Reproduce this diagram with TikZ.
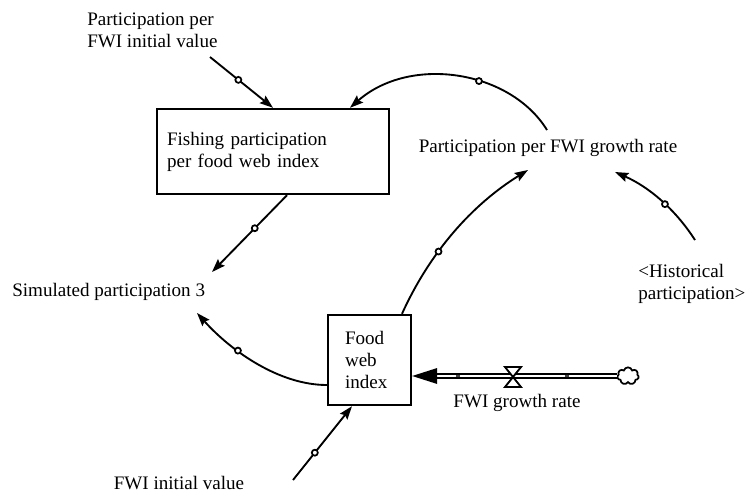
\documentclass[tikz,border=0pt]{standalone}
\usepackage{fontspec}
\setmainfont{Liberation Serif}
\usetikzlibrary{arrows.meta,shapes.symbols,calc}

\begin{document}
\begin{tikzpicture}[x=0.75pt,y=-0.75pt,
	every node/.style={font=\fontsize{14.3}{16.5}\selectfont},
	txt/.style={inner sep=0pt, align=left},
	stock/.style={draw, line width=1.8pt, align=left},
	link/.style={line width=1.4pt, -{Stealth[length=10pt,width=7pt,inset=1.5pt]}},
	hinge/.style={circle, draw, fill=white, line width=1.3pt, inner sep=0pt, minimum size=4.5pt},
	pipe/.style={double, double distance=2pt, line width=1pt},
	source/.style={cloud, cloud puffs=7, draw, fill=white, line width=1.3pt, inner sep=0pt, minimum width=16pt, minimum height=13pt}]
	\useasboundingbox (0,0) rectangle (747,493);
	% variables and levels
	\node[txt, anchor=west] (pfiv) at (87,30) {Participation per\\FWI initial value};
	\node[stock, minimum height=63.75pt, text width=159pt, inner xsep=7.5pt] (fish) at (273,151.5) {Fishing participation\\per food web index};
	\node[txt] (pgrow) at (548,148) {Participation per FWI growth rate};
	\node[txt, anchor=west] (hist) at (638,284) {<Historical\\participation>};
	\node[txt, anchor=west] (simp) at (12,292) {Simulated participation 3};
	\node[stock, minimum height=67.5pt, text width=36.75pt, inner xsep=12.75pt] (fwi) at (369.5,360) {Food\\web\\index};
	\node[txt] (fiv) at (179,483) {FWI initial value};
	\node[source] (cld) at (628,376) {};
	\node[txt] (frate) at (517,403) {FWI growth rate};
	% free ends of the links
	\coordinate (pfiv-out) at (210,57);
	\coordinate (pgrow-out) at (547,130);
	\coordinate (pgrow-in1) at (528,170);
	\coordinate (pgrow-in2) at (615,172);
	\coordinate (hist-out) at (695,240);
	\coordinate (simp-in1) at (212,272);
	\coordinate (simp-in2) at (197,313);
	\coordinate (fiv-out) at (293,480);
	% links
	\draw[link] (pfiv-out) -- node[hinge, pos=0.45]{} (fish.north);
	\draw[link] (pgrow-out) .. controls (510,70) and (410,55) .. node[hinge, pos=0.4]{} (fish.north -| 350,0);
	\draw[link] (fish.south -| 287,0) -- node[hinge, pos=0.43]{} (simp-in1);
	\draw[link] (hist-out) .. controls (675,209) and (649,187) .. node[hinge, pos=0.44]{} (pgrow-in2);
	\draw[link] (fwi.north -| 402,0) .. controls (429.7,252.8) and (471.3,205.2) .. node[hinge, pos=0.37]{} (pgrow-in1);
	\draw[link] (fwi.west |- 0,385) .. controls (280,385) and (232,352) .. node[hinge, pos=0.65]{} (simp-in2);
	\draw[link] (fiv-out) -- node[hinge, pos=0.37]{} (fwi.south -| 352,0);
	% flow into the level
	\coordinate (inflow) at (fwi.east |- cld.west);
	\draw[pipe] (cld.west) -- ($(inflow)+(24,0)$);
	\fill (inflow) -- ++(25,-8) -- ++(0,16) -- cycle;
	\foreach \x in {458,567}
		\draw[fill=white, line width=0.6pt] (\x,376) circle[radius=1.1pt];
	\draw[line width=1.4pt, fill=white, shift={(513,377)}] (-8,-10) -- (8,-10) -- (-8,10) -- (8,10) -- cycle;
\end{tikzpicture}
\end{document}
